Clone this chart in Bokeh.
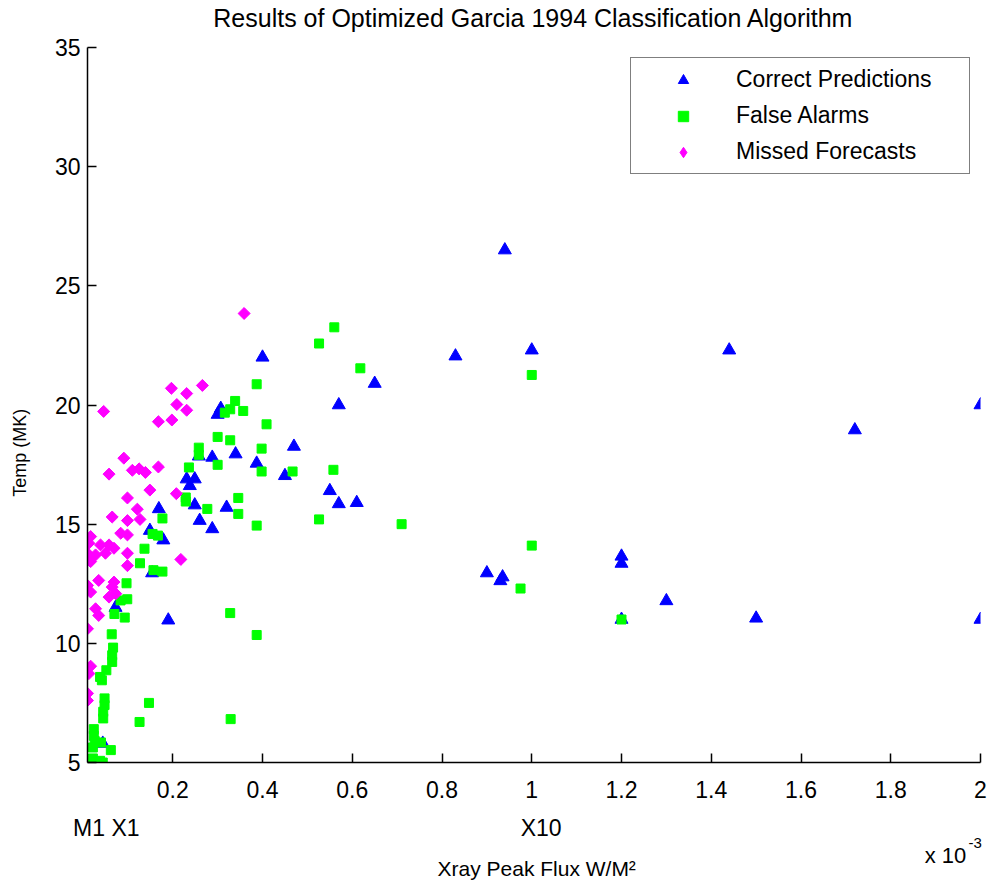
from bokeh.plotting import figure
from bokeh.models import Range1d, FixedTicker, Legend, LegendItem, LinearAxis
from bokeh.embed import file_html
from bokeh.resources import INLINE
import numpy as np

# ---------------- data (x in units of 1e-3 W/m^2, y in MK) ----------------
CP_X = [0.94, 0.40, 0.83, 1.00, 1.44, 2.00, 1.72, 0.57, 0.65, 0.300, 0.307, 0.47,
        0.258, 0.288, 0.34, 0.387, 0.45, 0.231, 0.249, 0.238, 0.55, 0.57, 0.61,
        0.249, 0.169, 0.32, 0.26, 0.288, 0.149, 0.179, 0.154, 0.0725, 0.19, 0.044,
        0.90, 0.935, 0.93, 1.20, 1.20, 1.30, 1.50, 1.20, 2.00]
CP_Y = [26.5, 22.0, 22.05, 22.3, 22.3, 20.0, 18.95, 20.0, 20.9, 19.6, 19.85, 18.26,
        17.85, 17.8, 17.94, 17.55, 17.03, 16.89, 16.89, 16.61, 16.4, 15.85, 15.9,
        15.8, 15.64, 15.7, 15.15, 14.8, 14.73, 14.33, 12.95, 11.5, 10.97, 5.8,
        12.95, 12.78, 12.62, 13.65, 13.35, 11.78, 11.05, 11.0, 11.0]

FA_X = [0.56, 0.526, 0.618, 1.00, 0.387, 0.339, 0.328, 0.316, 0.357, 0.409, 0.30,
        0.328, 0.258, 0.258, 0.398, 0.30, 0.236, 0.398, 0.467, 0.558, 0.229, 0.229,
        0.346, 0.277, 0.346, 0.387, 0.526, 0.71, 0.177, 0.155, 0.167, 0.137, 0.127,
        0.157, 0.177, 0.097, 0.0986, 0.0837, 0.07, 0.093, 0.328, 0.064, 0.387, 0.067,
        0.065, 0.065, 0.052, 0.038, 0.042, 0.048, 0.048, 0.045, 0.045, 0.147, 0.126,
        0.329, 0.024, 0.024, 0.026, 0.040, 0.022, 0.062, 0.022, 0.038, 0.044, 0.975,
        1.00, 1.20]
FA_Y = [23.26, 22.58, 21.54, 21.26, 20.87, 20.17, 19.82, 19.68, 19.75, 19.19, 18.66,
        18.52, 18.21, 17.91, 18.17, 17.49, 17.38, 17.21, 17.21, 17.28, 16.12, 15.95,
        16.10, 15.64, 15.43, 14.94, 15.20, 15.00, 15.24, 14.59, 14.52, 13.97, 13.36,
        13.07, 13.01, 12.52, 11.85, 11.80, 11.23, 11.08, 11.27, 10.38, 10.35, 9.82,
        9.50, 9.22, 8.87, 8.59, 8.45, 7.69, 7.41, 7.13, 6.85, 7.50, 6.70,
        6.82, 6.40, 6.12, 5.90, 5.84, 5.63, 5.52, 5.17, 5.07, 5.00, 12.30,
        14.10, 11.00]

MF_X = [0.359, 0.197, 0.231, 0.266, 0.209, 0.231, 0.046, 0.168, 0.198, 0.091, 0.058,
        0.110, 0.125, 0.139, 0.168, 0.149, 0.099, 0.208, 0.121, 0.065, 0.099, 0.127,
        0.084, 0.099, 0.017, 0.013, 0.039, 0.058, 0.069, 0.099, 0.010, 0.028, 0.050,
        0.017, 0.099, 0.218, 0.010, 0.035, 0.017, 0.065, 0.069, 0.073, 0.058, 0.028,
        0.035, 0.010, 0.017, 0.013, 0.010, 0.010]
MF_Y = [23.84, 20.70, 20.48, 20.82, 20.02, 19.78, 19.73, 19.30, 19.37, 17.77, 17.10,
        17.26, 17.32, 17.17, 17.40, 16.43, 16.10, 16.28, 15.63, 15.30, 15.15, 15.20,
        14.62, 14.55, 14.48, 14.20, 14.13, 14.13, 13.99, 13.78, 13.78, 13.71, 13.78,
        13.43, 13.26, 13.52, 12.43, 12.64, 12.15, 12.36, 12.57, 12.08, 11.94, 11.45,
        11.17, 10.61, 9.04, 8.73, 7.90, 7.60]

SERIES_NAMES = ["Correct Predictions", "False Alarms", "Missed Forecasts"]
XTICKS = [0.2, 0.4, 0.6, 0.8, 1.0, 1.2, 1.4, 1.6, 1.8, 2.0]
XTICK_LABELS = ["0.2", "0.4", "0.6", "0.8", "1", "1.2", "1.4", "1.6", "1.8", "2"]
YTICKS = [5, 10, 15, 20, 25, 30, 35]
YTICK_LABELS = ["5", "10", "15", "20", "25", "30", "35"]

TITLE = "Results of Optimized Garcia 1994 Classification Algorithm"
XLABEL = "Xray Peak Flux W/M\u00b2"
YLABEL = "Temp (MK)"
FLUX_CLASS_LABELS = ["M1 X1", "X10"]
EXPONENT_BASE = "x 10"
EXPONENT_POWER = "-3"

FONT = "Liberation Sans"

p = figure(width=988, height=884, output_backend="svg", toolbar_location=None,
           title=None,
           x_range=Range1d(0.01, 2.0), y_range=Range1d(5, 35),
           min_border_left=87, min_border_right=8, min_border_top=47,
           min_border_bottom=122)
p.background_fill_color = "white"
p.border_fill_color = "white"
p.outline_line_color = None
p.xgrid.visible = False
p.ygrid.visible = False

for ax in (p.xaxis, p.yaxis):
    ax.axis_line_color = "black"
    ax.axis_line_width = 1.5
    ax.major_tick_line_color = "black"
    ax.major_tick_line_width = 1.5
    ax.major_tick_in = 9
    ax.major_tick_out = 0
    ax.minor_tick_line_color = None
    ax.major_label_text_font = FONT
    ax.major_label_text_font_size = "23px"
    ax.major_label_text_color = "black"

p.xaxis.ticker = FixedTicker(ticks=XTICKS)
p.xaxis.major_label_overrides = dict(zip(XTICKS, XTICK_LABELS))
p.xaxis.major_label_standoff = 18
p.yaxis.ticker = FixedTicker(ticks=YTICKS)
p.yaxis.major_label_overrides = dict(zip(YTICKS, YTICK_LABELS))
p.yaxis.major_label_standoff = 7


def text_row(side, ticks, labels, size, standoff, orientation="horizontal"):
    """An extra bare axis used to place one row of texts outside the frame."""
    ax = LinearAxis(ticker=FixedTicker(ticks=ticks),
                    major_label_overrides=dict(zip(ticks, labels)),
                    major_label_standoff=standoff,
                    major_label_orientation=orientation,
                    major_label_text_font=FONT, major_label_text_font_size=size,
                    major_label_text_color="black",
                    axis_line_color=None, major_tick_line_color=None,
                    minor_tick_line_color=None, major_tick_in=0, major_tick_out=0)
    p.add_layout(ax, side)
    return ax


# title above the frame
text_row("above", [1.004], [TITLE], "25px", 16)
# y-axis label, centred a little below the middle of the axis
text_row("left", [18.0], [YLABEL], "18px", 21, orientation="vertical")
# flux-class markers under the axis (M1 = 1e-5, X1 = 1e-4, X10 = 1e-3 W/m^2)
text_row("below", [0.052, 1.021], FLUX_CLASS_LABELS, "23px", 14)
# exponent of the x axis: a raised "-3" and the "x 10"
text_row("below", [1.988], [EXPONENT_POWER], "15px", -6)
text_row("below", [1.922], [EXPONENT_BASE], "22px", -8)
# x-axis label
text_row("below", [1.011], [XLABEL], "21px", -14)

r_cp = p.scatter(CP_X, CP_Y, marker="triangle", size=13,
                 fill_color="#0000ff", line_color="#0000ff", line_width=1)
r_fa = p.scatter(FA_X, FA_Y, marker="square", size=9,
                 fill_color="#00ff00", line_color="#00ff00", line_width=1)
# diamond drawn under the first missed-forecast point, used as the legend glyph
r_mf_leg = p.scatter(MF_X[:1], MF_Y[:1], marker="diamond", size=10,
                     fill_color="#ff00ff", line_color="#ff00ff", line_width=1)
r_mf = p.scatter(MF_X, MF_Y, marker="square", size=8.5, angle=np.pi / 4,
                 fill_color="#ff00ff", line_color="#ff00ff", line_width=1)

legend = Legend(items=[LegendItem(label=SERIES_NAMES[0], renderers=[r_cp]),
                       LegendItem(label=SERIES_NAMES[1], renderers=[r_fa]),
                       LegendItem(label=SERIES_NAMES[2], renderers=[r_mf_leg])],
                location=(543, 588), padding=8, spacing=9, margin=0,
                glyph_width=88, glyph_height=26, label_height=26,
                label_width=225, label_standoff=9,
                label_text_font=FONT, label_text_font_size="23px",
                label_text_color="black",
                border_line_color="black", border_line_width=1,
                background_fill_color="white", background_fill_alpha=1.0)
p.add_layout(legend)

open("out.html", "w").write(file_html(p, INLINE))
